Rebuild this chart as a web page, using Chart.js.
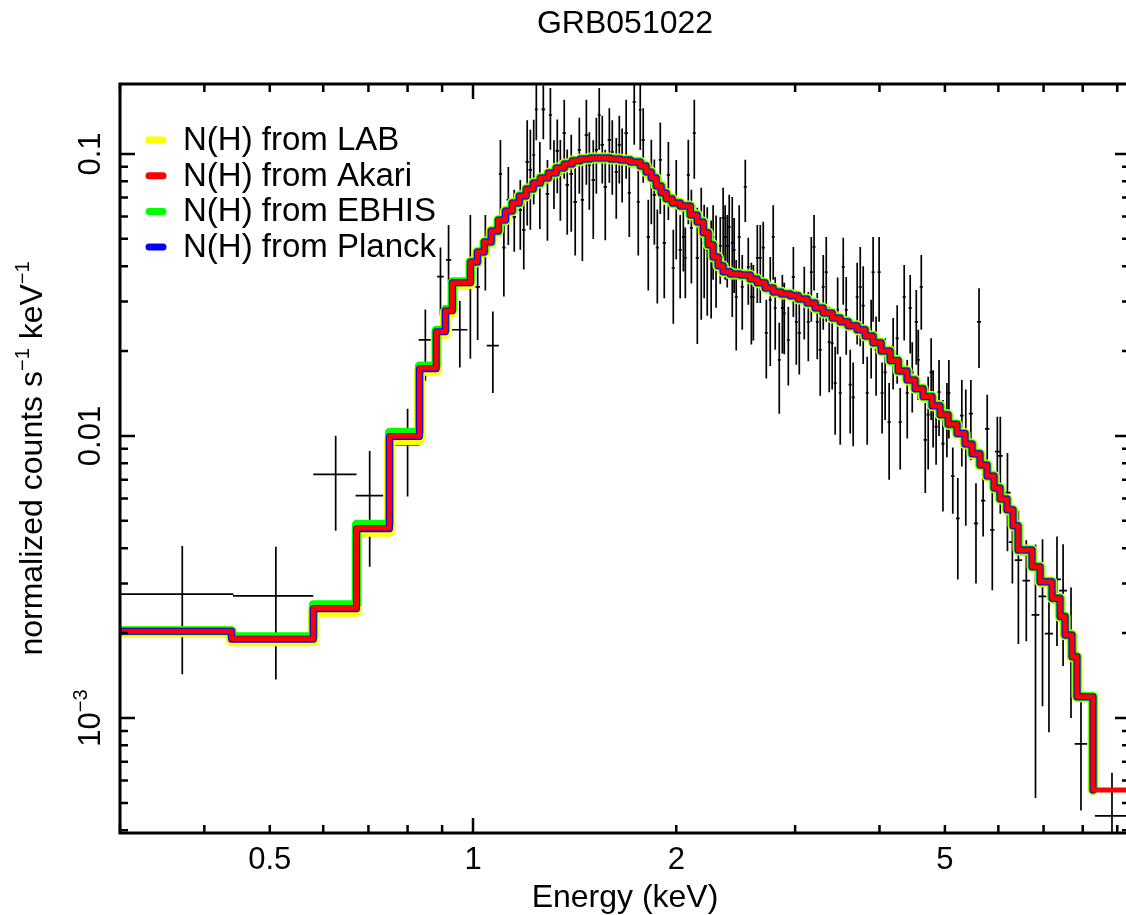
<!DOCTYPE html>
<html>
<head>
<meta charset="utf-8">
<title>GRB051022</title>
<script src="https://cdn.jsdelivr.net/npm/chart.js@4.4.1/dist/chart.umd.min.js"></script>
<style>
  html, body { margin: 0; padding: 0; overflow: hidden; background: #fff; }
  #wrap { width: 1140px; height: 915px; }
</style>
</head>
<body>
<div id="wrap"><canvas id="spectrum" width="1140" height="915"></canvas></div>
<script>
// Model curves (step functions, value starts at each bin energy)
// below ~1 keV the four absorption models differ a little
const modelEnergyLow = [0.300, 0.439, 0.580, 0.672, 0.752, 0.833, 0.882, 0.910, 0.932];
const labLow    = [0.00202, 0.00188, 0.00239, 0.00459, 0.0097, 0.0171, 0.0231, 0.0276, 0.0347];
const akariLow  = [0.00203, 0.00191, 0.00245, 0.00472, 0.0100, 0.0174, 0.0234, 0.0278, 0.0349];
const ebhisLow  = [0.00204, 0.00194, 0.00252, 0.00486, 0.0103, 0.0177, 0.0237, 0.0281, 0.0352];
const planckLow = [0.00203, 0.00190, 0.00244, 0.00469, 0.00995, 0.0173, 0.0234, 0.0278, 0.0349];

// above ~1 keV they coincide
const modelEnergyTail = [0.991, 1.015, 1.039, 1.064, 1.090, 1.117, 1.143, 1.171, 1.199, 1.228,
  1.258, 1.293, 1.328, 1.365, 1.403, 1.442, 1.492, 1.543, 1.597, 1.652,
  1.709, 1.769, 1.805, 1.837, 1.868, 1.900, 1.933, 1.973, 2.027, 2.098,
  2.148, 2.193, 2.230, 2.268, 2.307, 2.347, 2.404, 2.487, 2.574, 2.636,
  2.709, 2.784, 2.861, 2.951, 3.032, 3.126, 3.213, 3.301, 3.404, 3.499,
  3.595, 3.707, 3.809, 3.914, 4.023, 4.148, 4.263, 4.395, 4.517, 4.642,
  4.786, 4.918, 5.055, 5.212, 5.356, 5.486, 5.636, 5.773, 5.913, 6.034,
  6.180, 6.308, 6.416, 6.730, 6.917, 7.205, 7.405, 7.532, 7.713, 7.846, 8.286];
const modelTail = [0.0414, 0.0449, 0.0487, 0.0533, 0.0583, 0.0628, 0.0670, 0.0710, 0.0751, 0.0789,
  0.0822, 0.0856, 0.0892, 0.0922, 0.0945, 0.0960, 0.0968, 0.0968, 0.0960, 0.0952,
  0.0937, 0.0907, 0.0863, 0.0822, 0.0770, 0.0727, 0.0693, 0.0670, 0.0654, 0.0608,
  0.0574, 0.0525, 0.0476, 0.0431, 0.0401, 0.0382, 0.0375, 0.0372, 0.0360, 0.0349,
  0.0335, 0.0324, 0.0319, 0.0314, 0.0306, 0.0296, 0.0284, 0.0273, 0.0262, 0.0254,
  0.0246, 0.0238, 0.0226, 0.0214, 0.0200, 0.0185, 0.0170, 0.0158, 0.0147, 0.0138,
  0.0128, 0.0119, 0.0110, 0.0102, 0.00937, 0.00864, 0.00789, 0.00721, 0.00654, 0.00598,
  0.00547, 0.00480, 0.00394, 0.00344, 0.00304, 0.00266, 0.00229, 0.00197, 0.00165, 0.00119, 0.000556];
// only the Akari curve carries on through the last bin
const akariLastEnergy = 9.6;

// Data points: bin centre, half width, counts, 1 sigma
const energy = [0.371, 0.5105, 0.626, 0.703, 0.800, 0.850, 0.895, 0.920, 0.956, 0.991,
  1.016, 1.043, 1.070, 1.098, 1.111, 1.128, 1.151, 1.175, 1.189, 1.203,
  1.216, 1.230, 1.241, 1.256, 1.271, 1.289, 1.302, 1.318, 1.333, 1.347,
  1.365, 1.379, 1.398, 1.417, 1.437, 1.452, 1.472, 1.487, 1.507, 1.523,
  1.538, 1.554, 1.570, 1.592, 1.608, 1.630, 1.647, 1.663, 1.686, 1.704,
  1.733, 1.757, 1.769, 1.787, 1.818, 1.837, 1.856, 1.875, 1.894, 1.920,
  1.947, 1.980, 2.000, 2.027, 2.049, 2.063, 2.084, 2.106, 2.127, 2.149,
  2.178, 2.200, 2.223, 2.253, 2.268, 2.291, 2.324, 2.347, 2.363, 2.380,
  2.396, 2.421, 2.437, 2.454, 2.479, 2.505, 2.531, 2.557, 2.584, 2.602,
  2.637, 2.664, 2.691, 2.719, 2.756, 2.784, 2.803, 2.842, 2.872, 2.891,
  2.931, 2.982, 3.012, 3.043, 3.095, 3.138, 3.170, 3.200, 3.235, 3.268,
  3.302, 3.336, 3.370, 3.404, 3.439, 3.468, 3.499, 3.535, 3.571, 3.620,
  3.657, 3.707, 3.746, 3.784, 3.836, 3.888, 3.914, 3.954, 3.995, 4.036,
  4.078, 4.134, 4.191, 4.249, 4.293, 4.352, 4.397, 4.442, 4.473, 4.535,
  4.566, 4.613, 4.676, 4.723, 4.771, 4.803, 4.852, 4.901, 4.967, 5.034,
  5.068, 5.136, 5.225, 5.297, 5.369, 5.463, 5.559, 5.617, 5.696, 5.776,
  5.877, 5.979, 6.040, 6.189, 6.294, 6.424, 6.600, 6.810, 6.975, 7.130,
  7.328, 7.482, 7.687, 7.953, 8.84];
const energyErr = [0.0705, 0.0695, 0.046, 0.033, 0.033, 0.019, 0.010, 0.008, 0.025, 0.008,
  0.008, 0.008, 0.022, 0.006, 0.006, 0.007, 0.007, 0.007, 0.007, 0.007,
  0.007, 0.006, 0.006, 0.007, 0.008, 0.008, 0.007, 0.008, 0.008, 0.008,
  0.008, 0.008, 0.009, 0.009, 0.008, 0.008, 0.009, 0.008, 0.009, 0.008,
  0.008, 0.009, 0.009, 0.009, 0.009, 0.009, 0.009, 0.009, 0.010, 0.009,
  0.010, 0.009, 0.008, 0.010, 0.010, 0.010, 0.010, 0.010, 0.010, 0.011,
  0.011, 0.011, 0.010, 0.011, 0.010, 0.010, 0.011, 0.011, 0.011, 0.012,
  0.012, 0.012, 0.012, 0.011, 0.010, 0.012, 0.012, 0.012, 0.011, 0.012,
  0.012, 0.012, 0.012, 0.013, 0.013, 0.013, 0.013, 0.013, 0.012, 0.012,
  0.013, 0.013, 0.014, 0.014, 0.014, 0.014, 0.013, 0.014, 0.014, 0.014,
  0.015, 0.016, 0.015, 0.016, 0.016, 0.016, 0.016, 0.016, 0.016, 0.017,
  0.017, 0.017, 0.017, 0.017, 0.017, 0.017, 0.018, 0.018, 0.018, 0.019,
  0.019, 0.019, 0.020, 0.020, 0.020, 0.020, 0.020, 0.020, 0.021, 0.021,
  0.022, 0.022, 0.023, 0.023, 0.023, 0.024, 0.024, 0.024, 0.024, 0.025,
  0.025, 0.025, 0.026, 0.026, 0.026, 0.026, 0.027, 0.027, 0.028, 0.028,
  0.028, 0.030, 0.032, 0.034, 0.036, 0.038, 0.040, 0.040, 0.042, 0.044,
  0.046, 0.048, 0.050, 0.070, 0.075, 0.080, 0.085, 0.090, 0.095, 0.100,
  0.100, 0.100, 0.105, 0.17, 0.50];
const counts = [0.00275, 0.00271, 0.00731, 0.00614, 0.0093, 0.0219, 0.0367, 0.0421, 0.0238, 0.0398,
  0.0338, 0.0468, 0.0209, 0.0850, 0.0465, 0.0687, 0.0598, 0.0633, 0.0538, 0.0937,
  0.0878, 0.0992, 0.1438, 0.0822, 0.1438, 0.0722, 0.1374, 0.0878, 0.1025, 0.0850,
  0.1186, 0.0777, 0.0850, 0.0676, 0.1033, 0.0687, 0.1167, 0.0914, 0.0809, 0.1033,
  0.1374, 0.1076, 0.0764, 0.1121, 0.1016, 0.0864, 0.1076, 0.0952, 0.1186, 0.0728,
  0.1528, 0.0676, 0.1432, 0.1121, 0.0508, 0.0843, 0.0716, 0.0465, 0.0952, 0.0484,
  0.0843, 0.0394, 0.0687, 0.0457, 0.0508, 0.0428, 0.0843, 0.0547, 0.1186, 0.0428,
  0.0508, 0.0484, 0.0457, 0.0421, 0.0508, 0.0445, 0.0472, 0.0593, 0.0508, 0.0472,
  0.0551, 0.0484, 0.0457, 0.0311, 0.0508, 0.0338, 0.0764, 0.0398, 0.0311, 0.0311,
  0.0428, 0.0428, 0.0465, 0.0232, 0.0304, 0.0508, 0.0284, 0.0186, 0.0284, 0.0272,
  0.0219, 0.0366, 0.0254, 0.0232, 0.0309, 0.0254, 0.0381, 0.0468, 0.0254, 0.0202,
  0.0338, 0.0381, 0.0215, 0.0213, 0.0154, 0.0280, 0.0142, 0.0398, 0.0280, 0.0152,
  0.0137, 0.0311, 0.0338, 0.0290, 0.0142, 0.0232, 0.0381, 0.0202, 0.0381, 0.0142,
  0.0168, 0.0112, 0.0204, 0.0222, 0.0112, 0.0311, 0.0142, 0.0284, 0.0168, 0.0254,
  0.0186, 0.0338, 0.00968, 0.0119, 0.0168, 0.0131, 0.0108, 0.0143, 0.0094, 0.0119,
  0.0142, 0.0072, 0.0051, 0.0118, 0.0097, 0.0120, 0.0049, 0.0254, 0.0059, 0.0106,
  0.00464, 0.0088, 0.0085, 0.0063, 0.0042, 0.00363, 0.00307, 0.00232, 0.0027, 0.00199,
  0.0031, 0.00283, 0.00195, 0.00081, 0.00045];
const countsErr = [0.00132, 0.00134, 0.0027, 0.0027, 0.0032, 0.0062, 0.0099, 0.0139, 0.0063, 0.021,
  0.0119, 0.014, 0.0067, 0.027, 0.0153, 0.0212, 0.0148, 0.0176, 0.0149, 0.038,
  0.034, 0.033, 0.032, 0.028, 0.031, 0.023, 0.034, 0.024, 0.030, 0.027,
  0.037, 0.026, 0.032, 0.024, 0.031, 0.027, 0.039, 0.028, 0.031, 0.031,
  0.034, 0.029, 0.027, 0.033, 0.030, 0.0275, 0.029, 0.028, 0.037, 0.022,
  0.045, 0.024, 0.040, 0.033, 0.018, 0.028, 0.024, 0.017, 0.034, 0.0176,
  0.026, 0.0144, 0.0265, 0.015, 0.0125, 0.012, 0.028, 0.020, 0.037, 0.0216,
  0.025, 0.0176, 0.019, 0.016, 0.015, 0.016, 0.0126, 0.0165, 0.015, 0.0136,
  0.0165, 0.022, 0.0136, 0.011, 0.015, 0.010, 0.019, 0.0106, 0.010, 0.0093,
  0.0132, 0.0132, 0.011, 0.0072, 0.0127, 0.015, 0.0082, 0.0066, 0.0088, 0.0077,
  0.0068, 0.0102, 0.0075, 0.0067, 0.0089, 0.007, 0.0127, 0.014, 0.0067, 0.0063,
  0.010, 0.0127, 0.0072, 0.0067, 0.0053, 0.0085, 0.0049, 0.0106, 0.0086, 0.005,
  0.0045, 0.010, 0.013, 0.011, 0.0049, 0.0072, 0.0127, 0.0063, 0.0127, 0.004,
  0.0054, 0.0042, 0.0058, 0.0069, 0.0036, 0.0093, 0.0044, 0.0088, 0.0047, 0.0075,
  0.0052, 0.010, 0.0034, 0.0043, 0.0054, 0.004, 0.0029, 0.0043, 0.004, 0.0035,
  0.0044, 0.0019, 0.002, 0.004, 0.0049, 0.0038, 0.0019, 0.008, 0.0015, 0.0034,
  0.0018, 0.0029, 0.0032, 0.0024, 0.0012, 0.0018, 0.0012, 0.0018, 0.0016, 0.0011,
  0.0013, 0.0013, 0.00095, 0.00034, 0.00019];

// Axes
const xMin = 0.3, xMax = 9.4;
const yMin = 3.91e-4, yMax = 0.177;
const xMajorTicks = [1];
const xMinorTicks = [0.3, 0.4, 0.5, 0.6, 0.7, 0.8, 0.9, 2, 3, 4, 5, 6, 7, 8, 9];
const xLabelValues = [0.5, 1, 2, 5];
const xLabels = ['0.5', '1', '2', '5'];
const yMajorTicks = [0.001, 0.01, 0.1];
const yMinorTicks = [0.0004, 0.0005, 0.0006, 0.0007, 0.0008, 0.0009,
  0.002, 0.003, 0.004, 0.005, 0.006, 0.007, 0.008, 0.009,
  0.02, 0.03, 0.04, 0.05, 0.06, 0.07, 0.08, 0.09];
const yLabelValues = [0.001, 0.01, 0.1];
const yLabels = [[['10', 0], ['\u22123', 1]], [['0.01', 0]], [['0.1', 0]]];

const titleText = 'GRB051022';
const xTitle = 'Energy (keV)';
const yTitle = [['normalized counts s', 0], ['\u22121', 1], [' keV', 0], ['\u22121', 1]];

const FONT = '"Liberation Sans", Arial, Helvetica, sans-serif';

// build {x, y} points for one stepped model curve
function modelPoints(lowValues, extraEnd) {
  const pts = [];
  modelEnergyLow.forEach((e, i) => pts.push({ x: e, y: lowValues[i] }));
  modelEnergyTail.forEach((e, i) => pts.push({ x: e, y: modelTail[i] }));
  if (extraEnd) pts.push({ x: extraEnd, y: modelTail[modelTail.length - 1] });
  return pts;
}

function modelDataset(label, color, width, values, extraEnd) {
  return {
    label: label,
    data: modelPoints(values, extraEnd),
    borderColor: color,
    backgroundColor: color,
    borderWidth: width,
    stepped: true,
    pointRadius: 0,
    fill: false,
    borderCapStyle: 'round',
    borderJoinStyle: 'round'
  };
}

// text made of plain and superscript runs, centred on x, baseline at y
function drawRuns(ctx, runs, x, y, size) {
  const supSize = Math.round(size * 0.64);
  let total = 0;
  runs.forEach(([t, sup]) => {
    ctx.font = (sup ? supSize : size) + 'px ' + FONT;
    total += ctx.measureText(t).width;
  });
  let cx = x - total / 2;
  ctx.textAlign = 'left';
  ctx.textBaseline = 'alphabetic';
  runs.forEach(([t, sup]) => {
    ctx.font = (sup ? supSize : size) + 'px ' + FONT;
    ctx.fillText(t, cx, sup ? y - size * 0.42 : y);
    cx += ctx.measureText(t).width;
  });
}

// black crosses: x bin width and 1 sigma in y
const errorBars = {
  id: 'errorBars',
  beforeDatasetsDraw(chart) {
    const { ctx, chartArea: a, scales: { x, y } } = chart;
    ctx.save();
    ctx.beginPath();
    ctx.rect(a.left, a.top, a.right - a.left, a.bottom - a.top);
    ctx.clip();
    ctx.strokeStyle = '#000';
    ctx.lineWidth = 1.7;
    ctx.beginPath();
    for (let i = 0; i < energy.length; i++) {
      const px = x.getPixelForValue(energy[i]);
      const py = y.getPixelForValue(counts[i]);
      const lo = counts[i] - countsErr[i];
      const pyLo = lo > 0 ? y.getPixelForValue(lo) : a.bottom + 5;
      ctx.moveTo(px, y.getPixelForValue(counts[i] + countsErr[i]));
      ctx.lineTo(px, pyLo);
      ctx.moveTo(x.getPixelForValue(energy[i] - energyErr[i]), py);
      ctx.lineTo(x.getPixelForValue(energy[i] + energyErr[i]), py);
    }
    ctx.stroke();
    ctx.restore();
  }
};

// frame, inward ticks, labels, title and legend
const decorations = {
  id: 'decorations',
  afterDraw(chart) {
    const { ctx, chartArea: a, scales: { x, y } } = chart;
    ctx.save();
    ctx.strokeStyle = '#000';
    ctx.fillStyle = '#000';

    // ticks on all four sides
    ctx.lineWidth = 2.5;
    ctx.beginPath();
    const xTick = (v, len) => {
      const px = x.getPixelForValue(v);
      ctx.moveTo(px, a.bottom); ctx.lineTo(px, a.bottom - len);
      ctx.moveTo(px, a.top); ctx.lineTo(px, a.top + len);
    };
    const yTick = (v, len) => {
      const py = y.getPixelForValue(v);
      ctx.moveTo(a.left, py); ctx.lineTo(a.left + len, py);
      ctx.moveTo(a.right, py); ctx.lineTo(a.right - len, py);
    };
    xMajorTicks.forEach(v => xTick(v, 15));
    xMinorTicks.forEach(v => xTick(v, 8));
    yMajorTicks.forEach(v => yTick(v, 15));
    yMinorTicks.forEach(v => yTick(v, 8));
    ctx.stroke();

    // frame
    ctx.lineWidth = 3;
    ctx.strokeRect(a.left, a.top, a.right - a.left, a.bottom - a.top);

    // x tick labels
    xLabelValues.forEach((v, i) => {
      drawRuns(ctx, [[xLabels[i], 0]], x.getPixelForValue(v), a.bottom + 36, 31);
    });
    // y tick labels, rotated
    yLabelValues.forEach((v, i) => {
      ctx.save();
      ctx.translate(100, y.getPixelForValue(v));
      ctx.rotate(-Math.PI / 2);
      drawRuns(ctx, yLabels[i], 0, 0, 31);
      ctx.restore();
    });

    // axis titles
    drawRuns(ctx, [[xTitle, 0]], (a.left + a.right) / 2, 907, 32);
    ctx.save();
    ctx.translate(42, (a.top + a.bottom) / 2);
    ctx.rotate(-Math.PI / 2);
    drawRuns(ctx, yTitle, 0, 0, 32);
    ctx.restore();

    // title
    drawRuns(ctx, [[titleText, 0]], (a.left + a.right) / 2, 33, 32);

    // legend in the upper left corner
    const order = [3, 0, 2, 1];
    order.forEach((di, row) => {
      const ds = chart.data.datasets[di];
      const cy = a.top + 56 + row * 35.7;
      ctx.strokeStyle = ds.borderColor;
      ctx.lineWidth = 7;
      ctx.lineCap = 'round';
      ctx.beginPath();
      ctx.moveTo(a.left + 29, cy);
      ctx.lineTo(a.left + 43, cy);
      ctx.stroke();
      ctx.fillStyle = '#000';
      ctx.font = '33px ' + FONT;
      ctx.textAlign = 'left';
      ctx.textBaseline = 'middle';
      ctx.fillText(ds.label, a.left + 63, cy + 1);
    });
    ctx.restore();
  }
};

new Chart(document.getElementById('spectrum'), {
  type: 'line',
  data: {
    datasets: [
      modelDataset('N(H) from Akari', '#ff0000', 5, akariLow, akariLastEnergy),
      modelDataset('N(H) from Planck', '#0000ff', 7, planckLow),
      modelDataset('N(H) from EBHIS', '#00ff00', 9, ebhisLow),
      modelDataset('N(H) from LAB', '#ffff00', 11, labLow),
      {
        label: 'data',
        data: energy.map((e, i) => ({ x: e, y: counts[i] })),
        showLine: false,
        pointRadius: 0,
        borderColor: '#000'
      }
    ]
  },
  options: {
    responsive: false,
    animation: false,
    devicePixelRatio: 1,
    events: [],
    layout: { padding: { top: 84, right: 10, left: 0, bottom: 0 } },
    plugins: {
      legend: { display: false },
      title: { display: false },
      tooltip: { enabled: false }
    },
    scales: {
      x: {
        type: 'logarithmic',
        min: xMin,
        max: xMax,
        ticks: { display: false },
        grid: { display: false },
        border: { display: false },
        afterFit: s => { s.height = 82; }
      },
      y: {
        type: 'logarithmic',
        min: yMin,
        max: yMax,
        ticks: { display: false },
        grid: { display: false },
        border: { display: false },
        afterFit: s => { s.width = 120; }
      }
    }
  },
  plugins: [errorBars, decorations]
});
</script>
</body>
</html>
